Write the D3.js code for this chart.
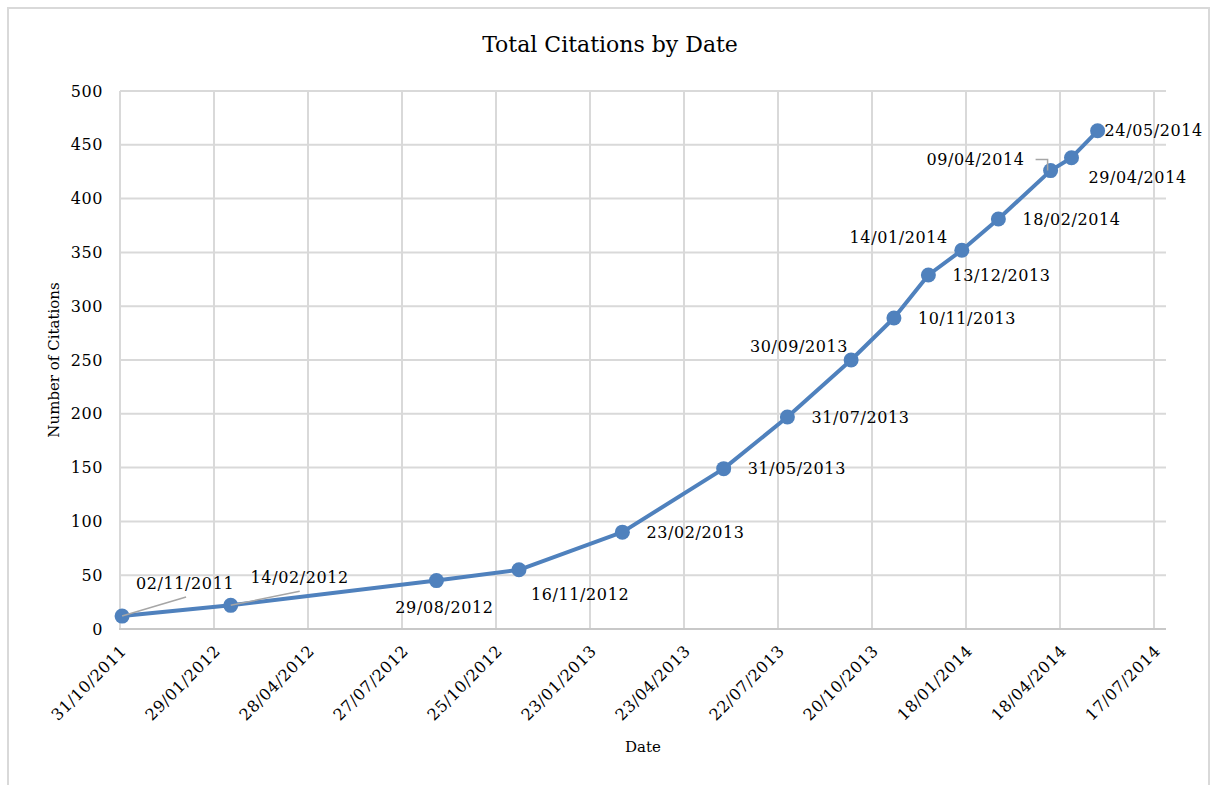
<!DOCTYPE html>
<html>
<head>
  <meta charset="utf-8">
  <title>Total Citations by Date</title>
  <script src="https://d3js.org/d3.v7.min.js"></script>
  <style>
    body { margin: 0; background: #ffffff; font-family: 'DejaVu Serif', serif; }
    svg { display: block; }
    .lbl { font-size: 16px; letter-spacing: 0.6px; fill: #000; }
  </style>
</head>
<body>
<svg width="1211" height="785"></svg>
<script>
// data
var dates = ["02/11/2011", "14/02/2012", "29/08/2012", "16/11/2012", "23/02/2013",
  "31/05/2013", "31/07/2013", "30/09/2013", "10/11/2013", "13/12/2013",
  "14/01/2014", "18/02/2014", "09/04/2014", "29/04/2014", "24/05/2014"];
var citations = [12, 22, 45, 55, 90, 149, 197, 250, 289, 329, 352, 381, 426, 438, 463];
var yTicks = [0, 50, 100, 150, 200, 250, 300, 350, 400, 450, 500];
var xTickStart = "31/10/2011", xTickStep = 90, xTickCount = 12;

var parse = d3.timeParse("%d/%m/%Y");
var fmt = d3.timeFormat("%d/%m/%Y");
var data = dates.map(function (d, i) { return { label: d, date: parse(d), value: citations[i] }; });

var xTicks = d3.range(xTickCount).map(function (i) { return d3.timeDay.offset(parse(xTickStart), i * xTickStep); });

var svg = d3.select("svg");

// outer chart border
svg.append("path")
  .attr("d", "M8,790 L8,8 L1209,8 L1209,790")
  .attr("fill", "none").attr("stroke", "#d9d9d9").attr("stroke-width", 2);

var x = d3.scaleTime()
  .domain([xTicks[0], xTicks[xTicks.length - 1]])
  .range([120, 1154]);
var y = d3.scaleLinear().domain([0, 500]).range([629, 91]);

// grid
svg.append("g").selectAll("line").data(yTicks).enter().append("line")
  .attr("x1", 120).attr("x2", 1166)
  .attr("y1", function (d) { return y(d); }).attr("y2", function (d) { return y(d); })
  .attr("stroke", "#d9d9d9").attr("stroke-width", 2);
svg.append("g").selectAll("line").data(xTicks).enter().append("line")
  .attr("x1", function (d) { return x(d); }).attr("x2", function (d) { return x(d); })
  .attr("y1", y(500)).attr("y2", y(0))
  .attr("stroke", "#d9d9d9").attr("stroke-width", 2);
svg.append("line").attr("x1", 119).attr("x2", 1166).attr("y1", y(0)).attr("y2", y(0))
  .attr("stroke", "#c8c8c8").attr("stroke-width", 2);

// axes (labels only)
var yAxis = d3.axisLeft(y).tickValues(yTicks).tickSize(0).tickPadding(17);
var gy = svg.append("g").attr("transform", "translate(120,0)").call(yAxis);
gy.select(".domain").remove();
gy.selectAll("text").attr("class", "lbl").attr("font-family", "DejaVu Serif").attr("font-size", 16);

var xAxis = d3.axisBottom(x).tickValues(xTicks).tickFormat(fmt).tickSize(0);
var gx = svg.append("g").attr("transform", "translate(0," + y(0) + ")").call(xAxis);
gx.select(".domain").remove();
gx.selectAll("text")
  .attr("class", "lbl").attr("font-family", "DejaVu Serif").attr("font-size", 16)
  .attr("text-anchor", "end")
  .attr("x", 0).attr("y", 0).attr("dy", "0.35em")
  .attr("transform", "translate(3,19) rotate(-45)");

// line + markers
var line = d3.line().x(function (d) { return x(d.date); }).y(function (d) { return y(d.value); });
svg.append("path").datum(data).attr("d", line)
  .attr("fill", "none").attr("stroke", "#4f81bd").attr("stroke-width", 4)
  .attr("stroke-linejoin", "round");
svg.append("g").selectAll("circle").data(data).enter().append("circle")
  .attr("cx", function (d) { return x(d.date); })
  .attr("cy", function (d) { return y(d.value); })
  .attr("r", 7.5).attr("fill", "#4f81bd");

// data label placement: [dx, dy, anchor]
var place = {
  "02/11/2011": [63, -33, "middle"],
  "14/02/2012": [69, -28, "middle"],
  "29/08/2012": [8, 27, "middle"],
  "16/11/2012": [12, 25, "start"],
  "30/09/2013": [-3, -14, "end"],
  "14/01/2014": [-14, -13, "end"],
  "09/04/2014": [-26, -11, "end"],
  "29/04/2014": [17, 20, "start"],
  "24/05/2014": [7, 0, "start"]
};
// leader lines, relative to the point
var leaders = {
  "02/11/2011": [[0, 0], [64, -19]],
  "14/02/2012": [[0, 0], [69, -14]],
  "09/04/2014": [[-3, 0], [-3, -11], [-15, -11]]
};

var lg = svg.append("g");
data.forEach(function (d) {
  var px = x(d.date), py = y(d.value);
  var p = place[d.label] || [24, 0, "start"];
  if (leaders[d.label]) {
    lg.append("path")
      .attr("d", d3.line()(leaders[d.label].map(function (q) { return [px + q[0], py + q[1]]; })))
      .attr("fill", "none").attr("stroke", "#a6a6a6").attr("stroke-width", 1.5);
  }
  svg.append("text").attr("class", "lbl")
    .attr("x", px + p[0]).attr("y", py + p[1]).attr("dy", "0.35em")
    .attr("text-anchor", p[2])
    .text(d.label);
});

// titles
svg.append("text").attr("x", 610).attr("y", 44).attr("dy", "0.35em")
  .attr("text-anchor", "middle").attr("font-size", 22).text("Total Citations by Date");
svg.append("text").attr("x", 643).attr("y", 747).attr("dy", "0.35em")
  .attr("text-anchor", "middle").attr("font-size", 15).text("Date");
svg.append("text").attr("transform", "translate(54,360) rotate(-90)").attr("dy", "0.35em")
  .attr("text-anchor", "middle").attr("font-size", 15).text("Number of Citations");
</script>
</body>
</html>
